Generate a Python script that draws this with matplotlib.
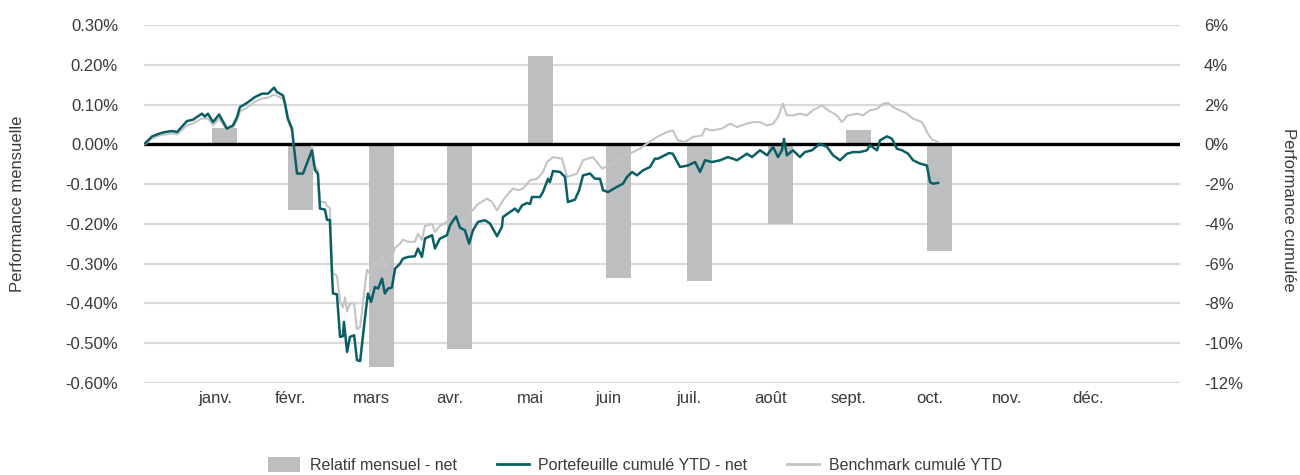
import matplotlib
matplotlib.use("Agg")
import matplotlib.pyplot as plt
from matplotlib.patches import Patch
from matplotlib.lines import Line2D

plt.rcParams['font.family'] = ['Liberation Sans', 'DejaVu Sans']

# mois (barres positionnees en fin de mois, jours depuis le 31/12/2019)
mois = ['janv.', 'févr.', 'mars', 'avr.', 'mai', 'juin', 'juil.', 'août', 'sept.', 'oct.', 'nov.', 'déc.']
fin_mois = [31, 60, 91, 121, 152, 182, 213, 244, 274, 305, 335, 366]

# relatif mensuel - net (%)
relatif = [0.04, -0.165, -0.56, -0.515, 0.221, -0.337, -0.344, -0.20, 0.037, -0.268]

# portefeuille cumule YTD - net (%)
port_jour = [0.4, 3.1, 6.1, 8.1, 10.7, 12.7, 16.5, 18.8, 22.2, 23.4, 24.5, 26.5, 28.8, 31.8, 34.1,
             35.7, 36.8, 39.5, 42.6, 45.3, 47.6, 49.9, 51.0, 53.3, 54.1, 55.2, 56.8, 57.5, 58.7, 61.0,
             64.4, 65.6, 66.7, 67.5, 69.4, 70.2, 71.3, 72.1, 72.5, 74.0, 75.2, 76.3, 76.7, 77.9, 79.0,
             80.6, 81.7, 82.9, 84.8, 85.9, 87.1, 88.6, 89.8, 91.3, 92.4, 93.6, 95.1, 96.3, 98.2, 99.3,
             101.3, 103.9, 105.1, 106.6, 107.8, 110.5, 111.6, 113.5, 116.2, 117.4, 119.7, 121.2, 123.1,
             124.7, 126.2, 128.1, 130.8, 132.7, 135.4, 137.3, 137.7, 140.4, 142.3, 143.5, 145.0, 146.9,
             148.1, 148.8, 151.9, 153.0, 155.0, 155.7, 156.9, 159.6, 161.5, 162.6, 165.3, 166.9, 168.4,
             171.1, 173.0, 174.9, 176.1, 178.0, 181.4, 183.7, 185.3, 187.2, 189.1, 191.4, 194.1, 196.0,
             197.2, 199.8, 201.4, 202.8, 205.6, 208.7, 211.4, 213.3, 215.2, 217.9, 221.0, 224.0, 227.5,
             231.3, 233.2, 236.3, 239.0, 241.3, 243.2, 244.7, 245.5, 246.6, 248.9, 251.6, 253.5, 256.2,
             259.3, 262.0, 264.3, 267.0, 269.7, 272.0, 274.6, 277.3, 278.5, 281.2, 282.3, 285.0, 286.9,
             288.8, 290.8, 293.1, 295.0, 297.7, 300.3, 301.5, 302.6, 304.6]
port_val = [0.05, 0.40, 0.55, 0.62, 0.67, 0.62, 1.17, 1.24, 1.54, 1.40, 1.54, 1.12, 1.50, 0.79, 0.95,
            1.37, 1.87, 2.08, 2.38, 2.55, 2.55, 2.85, 2.63, 2.46, 2.05, 1.29, 0.79, -0.13, -1.47, -1.47,
            -0.30, -1.30, -1.47, -3.23, -3.28, -3.80, -3.80, -6.50, -7.50, -7.54, -9.68, -9.65, -8.93, -10.44, -9.68,
            -9.60, -10.85, -10.90, -8.68, -7.50, -7.92, -7.17, -7.25, -6.75, -7.50, -7.25, -7.20, -6.25, -6.00, -5.75,
            -5.66, -5.63, -5.24, -5.66, -4.74, -4.57, -5.24, -4.74, -4.57, -4.07, -3.62, -4.19, -4.32,
            -4.99, -4.32, -3.90, -3.82, -3.98, -4.62, -4.15, -3.65, -3.40, -3.23, -3.40, -3.07, -2.95,
            -3.00, -2.65, -2.65, -2.40, -1.73, -1.90, -1.34, -1.39, -1.64, -2.90, -2.78, -2.31, -1.56,
            -1.47, -1.73, -1.73, -2.31, -2.40, -2.14, -1.98, -1.64, -1.39, -1.56, -1.31, -1.14, -0.72,
            -0.72, -0.55, -0.44, -0.47, -1.14, -1.06, -0.89, -1.39, -0.80, -0.89, -0.80, -0.64, -0.80,
            -0.47, -0.64, -0.30, -0.55, -0.13, -0.64, -0.30, 0.28, -0.55, -0.30, -0.64, -0.39, -0.30,
            0.03, -0.13, -0.55, -0.80, -0.47, -0.39, -0.39, -0.30, -0.05, -0.30, 0.20, 0.40, 0.28,
            -0.22, -0.30, -0.47, -0.80, -0.97, -1.06, -1.90, -1.98, -1.94]

# benchmark cumule YTD (%)
bench_jour = [0.4, 3.1, 6.1, 10.7, 12.7, 16.5, 18.8, 22.2, 24.5, 26.5, 28.8, 31.8, 34.1, 35.7, 36.8,
              39.5, 42.6, 45.3, 47.6, 49.9, 53.3, 54.1, 55.2, 56.8, 57.5, 58.7, 61.0, 64.4, 65.6, 66.7,
              67.5, 69.4, 70.2, 71.3, 72.1, 72.5, 74.0, 75.2, 76.3, 77.1, 77.9, 79.0, 80.6, 81.7, 82.9,
              84.4, 85.5, 87.1, 88.6, 89.8, 91.3, 92.4, 93.6, 95.1, 96.3, 98.2, 99.3, 101.3, 103.9, 105.1,
              106.6, 107.8, 108.9, 110.5, 111.6, 113.5, 116.2, 117.4, 120.1, 121.2, 123.1, 125.0, 126.2,
              128.1, 131.6, 133.5, 135.4, 137.3, 139.2, 141.5, 143.5, 145.4, 148.1, 150.8, 153.0, 154.6,
              156.9, 160.3, 162.3, 166.1, 168.4, 172.2, 175.7, 179.5, 183.7, 187.6, 190.2, 192.9, 196.8,
              200.6, 202.8, 204.8, 207.5, 210.6, 214.1, 215.2, 217.9, 221.7, 224.8, 227.5, 231.3, 233.6,
              236.3, 239.0, 241.3, 243.2, 245.1, 246.6, 248.9, 251.6, 254.3, 256.6, 260.1, 262.4, 265.8,
              267.7, 270.0, 273.5, 275.8, 278.5, 281.2, 283.5, 285.4, 287.3, 290.0, 292.7, 295.0, 298.4,
              300.7, 302.3, 304.6]
bench_val = [0.0, 0.30, 0.45, 0.55, 0.50, 0.95, 1.05, 1.30, 1.30, 0.95, 1.30, 0.70, 0.85, 1.20, 1.65,
             1.85, 2.15, 2.30, 2.35, 2.50, 2.30, 1.90, 1.20, 0.60, -0.20, -1.30, -1.35, -0.10, -1.10, -1.30,
             -2.90, -2.90, -3.10, -3.20, -6.00, -6.50, -6.60, -7.90, -8.20, -7.70, -8.40, -8.00, -8.00, -9.30, -9.20,
             -7.50, -6.30, -6.60, -5.90, -6.10, -5.60, -6.20, -5.90, -5.70, -5.20, -5.00, -4.80, -4.90, -4.90, -4.50,
             -4.80, -4.10, -4.07, -4.00, -4.40, -4.10, -3.90, -3.60, -3.60, -3.90, -3.80, -3.40, -3.30,
             -3.00, -2.73, -2.90, -3.32, -2.90, -2.56, -2.23, -2.30, -2.23, -1.81, -1.73, -1.40, -0.89,
             -0.64, -0.72, -1.64, -1.47, -0.80, -0.64, -1.22, -0.97, -0.64, -0.39, -0.22, 0.03, 0.37,
             0.62, 0.70, 0.20, 0.12, 0.37, 0.45, 0.79, 0.70, 0.79, 1.04, 0.87, 1.04, 1.12,
             1.12, 0.95, 1.04, 1.37, 2.04, 1.46, 1.46, 1.54, 1.46, 1.71, 1.96, 1.71, 1.46,
             1.12, 1.46, 1.54, 1.46, 1.71, 1.79, 2.04, 2.08, 1.87, 1.71, 1.54, 1.29, 1.12,
             0.54, 0.24, 0.12]

teal = '#0b5e66'
gris_ligne = '#c4c4c4'
gris_barre = '#bdbec0'
texte = '#3a3a3a'

fig = plt.figure(figsize=(13, 4.75), dpi=100)
ax1 = fig.add_axes([144 / 1300, 1 - 383 / 475, (1180 - 144) / 1300, (383 - 25) / 475])
ax2 = ax1.twinx()

ax1.set_axisbelow(True)
ax1.bar(fin_mois[:len(relatif)], relatif, width=9.6, color=gris_barre, zorder=2)
ax1.set_ylim(-0.6, 0.3)
ax1.set_yticks([i / 10 for i in range(-6, 4)])
ax1.set_yticklabels(['%.2f%%' % (i / 10) for i in range(-6, 4)])
ax1.yaxis.grid(True, color='#d9d9d9', linewidth=1.6)

ax2.axhline(0, color='black', linewidth=2.4, zorder=1)
ax2.plot(bench_jour, bench_val, color=gris_ligne, linewidth=1.5, zorder=2)
ax2.plot(port_jour, port_val, color=teal, linewidth=1.8, zorder=3)
ax2.set_ylim(-12, 6)
ax2.set_yticks(range(-12, 7, 2))
ax2.set_yticklabels(['%d%%' % v for v in range(-12, 7, 2)])

# etiquettes de mois legerement a gauche de la fin de mois
ax1.set_xlim(0, 397.4)
ax1.set_xticks([d - 3.8 for d in fin_mois])
ax1.set_xticklabels(mois)

for ax in (ax1, ax2):
    for s in ax.spines.values():
        s.set_visible(False)
    ax.tick_params(length=0, labelsize=12, labelcolor=texte)
ax1.tick_params(axis='y', pad=26 * 72 / 100)
ax2.tick_params(axis='y', pad=24 * 72 / 100)
ax1.tick_params(axis='x', pad=6)

fig.text(18 / 1300, 1 - 204 / 475, 'Performance mensuelle', rotation=90, ha='center', va='center',
         fontsize=12, color=texte)
fig.text(1288 / 1300, 1 - 210 / 475, 'Performance cumulée', rotation=270, ha='center', va='center',
         fontsize=12, color=texte)

handles = [Patch(facecolor=gris_barre, edgecolor='none'),
           Line2D([], [], color=teal, linewidth=2),
           Line2D([], [], color=gris_ligne, linewidth=2)]
labels = ['Relatif mensuel - net', 'Portefeuille cumulé YTD - net', 'Benchmark cumulé YTD']
leg = fig.legend(handles, labels, loc='center', bbox_to_anchor=(635 / 1300, 1 - 465 / 475), ncol=3,
                 frameon=False, fontsize=11.5, handlelength=2.0, handleheight=1.1, handletextpad=0.6,
                 columnspacing=2.5)
for t in leg.get_texts():
    t.set_color(texte)

fig.savefig('out.png', dpi=100)
